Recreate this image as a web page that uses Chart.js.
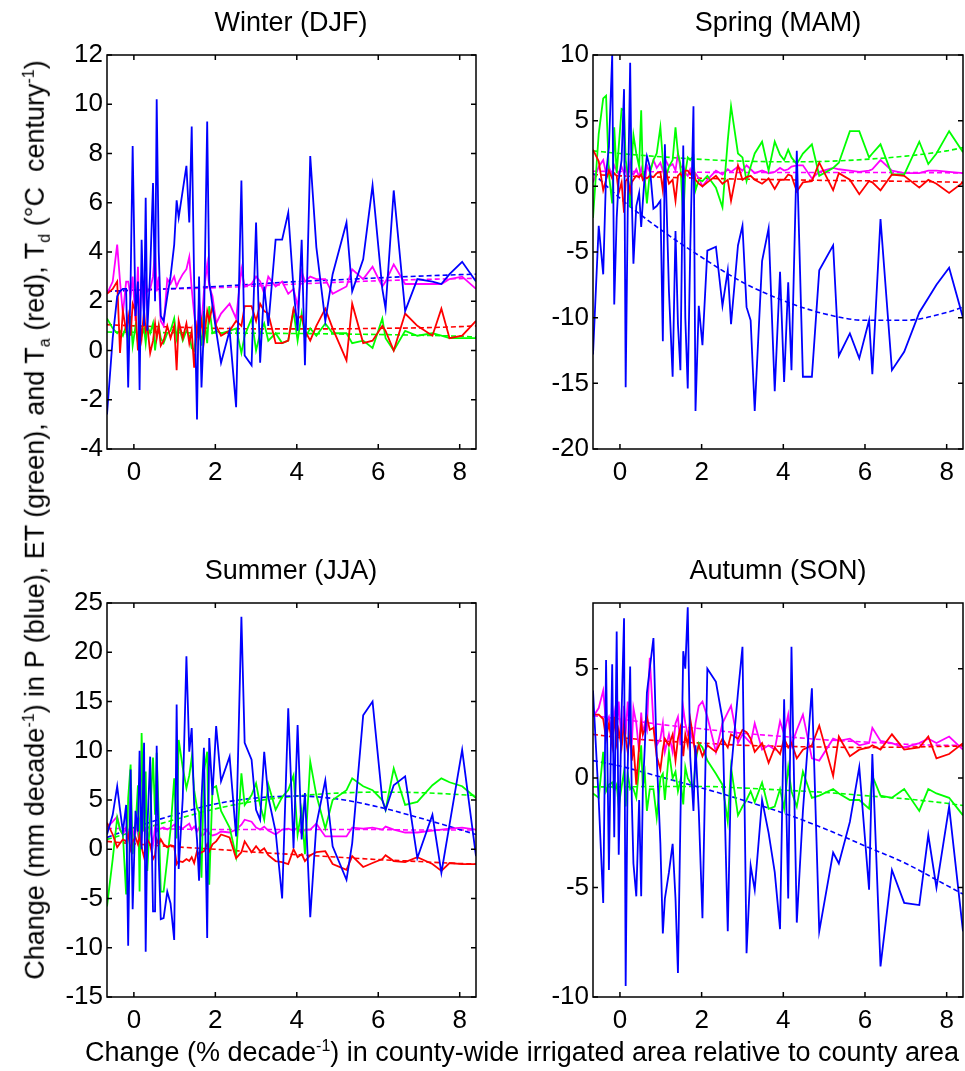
<!DOCTYPE html>
<html>
<head>
<meta charset="utf-8">
<script src="https://cdn.jsdelivr.net/npm/chart.js@4.4.1/dist/chart.umd.min.js"></script>
<style>
  body { margin: 0; background: #fff; font-family: "Liberation Sans", Arial, sans-serif; }
  #page { position: relative; width: 965px; height: 1071px; overflow: hidden; }
  canvas { position: absolute; }
  .title { position: absolute; font-size: 27px; color: #000; transform: translateX(-50%); white-space: nowrap; }
  #ylab { position: absolute; left: 37px; top: 520px; font-size: 27px; white-space: nowrap;
          transform: translate(-50%, -50%) rotate(-90deg); }
  #xlab { position: absolute; left: 522px; top: 1037px; font-size: 27px; white-space: nowrap; transform: translateX(-50%); }
  sup, sub { font-size: 16px; }
</style>
</head>
<body>
<div id="page">
  <canvas id="c1" width="480" height="500" style="left:0;top:0"></canvas>
  <canvas id="c2" width="479" height="500" style="left:486px;top:0"></canvas>
  <canvas id="c3" width="480" height="500" style="left:0;top:548px"></canvas>
  <canvas id="c4" width="479" height="500" style="left:486px;top:548px"></canvas>
  <div class="title" style="left:291px;top:7px">Winter (DJF)</div>
  <div class="title" style="left:778px;top:7px">Spring (MAM)</div>
  <div class="title" style="left:291px;top:555px">Summer (JJA)</div>
  <div class="title" style="left:778px;top:555px">Autumn (SON)</div>
  <div id="ylab">Change (mm decade<sup>-1</sup>) in P (blue), ET (green), and T<sub>a</sub> (red), T<sub>d</sub> (°C&nbsp; century<sup>-1</sup>)</div>
  <div id="xlab">Change (% decade<sup>-1</sup>) in county-wide irrigated area relative to county area</div>
</div>
<script>
// x: change in irrigated area (% per decade), shared by all panels
const irrX = [-0.66, -0.52, -0.41, -0.34, -0.27, -0.19, -0.14, -0.08, -0.03, 0.04,
  0.1, 0.14, 0.19, 0.25, 0.29, 0.33, 0.4, 0.47, 0.52, 0.56,
  0.61, 0.66, 0.73, 0.82, 0.9, 0.99, 1.05, 1.1, 1.2, 1.29,
  1.36, 1.42, 1.48, 1.55, 1.6, 1.66, 1.72, 1.8, 1.85, 1.93,
  2.02, 2.14, 2.35, 2.51, 2.64, 2.72, 2.89, 3.0, 3.1, 3.2,
  3.3, 3.48, 3.64, 3.79, 3.92, 4.02, 4.12, 4.2, 4.33, 4.48,
  4.7, 4.88, 5.22, 5.36, 5.63, 5.86, 6.1, 6.18, 6.38, 6.66,
  6.96, 7.33, 7.55, 7.75, 8.06, 8.4];
const fitX = [-0.66, 0, 1, 2, 3, 4, 5, 6, 7, 8, 8.4];
const xTicks = [0, 2, 4, 6, 8];

// Winter
const winterP = [-2.6, 0.5, 2.2, 2.4, 2.5, 2.5, -1.5, 2.8, 8.3, 1.4,
  2.8, -1.6, 4.5, 1.0, 6.2, 0.8, 3.2, 6.8, 2.0, 10.2,
  4.0, 1.4, 1.2, 2.2, 3.0, 4.3, 6.1, 5.4, 6.5, 7.5,
  5.2, 9.1, 2.8, -2.8, 3.0, -1.5, 1.0, 9.3, 2.8, 1.8,
  0.8, -0.5, 0.8, -2.3, 6.9, -0.2, -0.6, 5.2, -0.5, 2.6,
  1.0, 4.5, 4.5, 5.6, 2.5, 0.8, 4.5, -0.6, 7.9, 4.2,
  1.2, 3.1, 5.2, 2.4, 3.7, 6.7, 2.5, 1.7, 6.5, 1.6,
  2.9, 2.8, 2.7, 3.1, 3.6, 2.8];
const winterET = [1.3, 0.9, 0.7, 0.8, 0.6, 1.0, 0.4, 1.4, 0.2, 1.0,
  0.3, 1.2, 0.6, 0.9, 0.3, 1.0, 0.7, 1.1, 0.0, 0.6,
  1.0, 0.5, 0.3, 0.7, 0.8, 1.3, 0.5, 1.0, 0.4, 0.8,
  0.6, 0.1, 0.0, 0.9, 1.0, 0.2, 1.6, 0.3, 1.8, 0.7,
  0.8, 0.7, 0.8, 0.9, -0.1, 0.6, 1.3, 0.0, 0.7, 1.1,
  0.4, 0.7, 0.3, 0.4, 1.6, 0.4, 1.5, 0.5, 0.9, 0.6,
  1.1, 0.7, 0.7, 0.3, 0.4, 0.1, 1.3, 0.5, 0.0, 0.8,
  0.6, 0.7, 0.6, 0.5, 0.5, 0.5];
const winterTa = [2.3, 2.5, 2.8, -0.1, 1.6, 0.8, 1.4, 0.6, 1.9, 1.6,
  0.0, 1.2, 0.5, 1.6, 0.8, 1.0, -0.1, 0.4, 1.1, 0.5,
  1.0, 0.2, 0.4, 1.0, 0.5, 1.0, -0.8, 1.2, 0.5, 1.1,
  0.3, 0.8, -0.7, 1.0, 0.6, 1.2, 0.4, 1.6, 1.2, 1.8,
  1.0, 0.6, 0.8, 1.2, 1.0, 1.8, 1.8, 1.2, 1.9, 1.6,
  1.5, 0.3, 0.3, 0.4, 1.7, 1.3, 1.4, 0.8, 0.4, 1.0,
  1.7, 0.9, -0.4, 1.9, 0.3, 0.4, 1.0, 0.8, 0.0, 1.5,
  1.0, 0.6, 1.7, 0.5, 0.6, 1.2];
const winterTd = [2.3, 2.8, 4.3, 2.8, 1.5, 2.8, 2.8, 2.2, 3.0, 1.2,
  3.4, 1.0, 3.0, 1.5, 2.8, 2.4, 2.5, 3.0, 4.1, 2.4,
  3.0, 1.2, 1.0, 2.9, 2.7, 3.0, 2.6, 2.8, 3.1, 3.3,
  3.8, 2.5, 1.5, 0.5, 2.0, 1.0, 2.4, 3.5, 2.6, 2.2,
  1.1, 1.5, 1.9, 1.3, 3.3, 2.6, 2.7, 3.0, 2.8, 2.3,
  3.0, 2.6, 2.8, 2.3, 2.5, 1.8, 3.2, 2.8, 3.0, 2.9,
  2.9, 2.3, 2.6, 3.3, 2.9, 3.4, 2.6, 2.8, 3.5, 2.7,
  2.7, 2.7, 2.7, 2.9, 3.0, 2.5];
const winterPFit = [2.4, 2.45, 2.52, 2.6, 2.7, 2.8, 2.87, 2.95, 3.02, 3.08, 3.1];
const winterETFit = [0.75, 0.74, 0.72, 0.71, 0.7, 0.69, 0.67, 0.65, 0.62, 0.58, 0.55];
const winterTaFit = [1.05, 1.0, 0.95, 0.9, 0.88, 0.88, 0.88, 0.9, 0.92, 0.97, 1.0];
const winterTdFit = [2.4, 2.45, 2.5, 2.55, 2.62, 2.7, 2.77, 2.83, 2.88, 2.92, 2.93];
const winterYTicks = [-4, -2, 0, 2, 4, 6, 8, 10, 12];

// Spring
const springP = [-12.8, -3.0, -6.7, 0.9, 3.0, 10, -9, -2.4, 0.5, 2.0,
  7.4, -15.3, -2.0, 9.4, -1.0, -5.9, -1.5, -0.5, -3.1, -1.2,
  1.0, 2.3, 1.5, -1.7, -1.5, -1.1, -11.8, 3.2, -8, -14.5,
  -3.4, -10.5, -14, 3.1, -10, -15.4, -5, 6.1, -17.1, -9.1,
  -12.1, -4.9, -4.6, -9.1, -6.4, -10.5, -4.5, -3.0, -9.2, -10.2,
  -17.1, -5.7, -3.2, -15.6, -6.5, -14.9, -7.3, -14, 2.7, -14.5,
  -14.5, -6.4, -4.5, -12.9, -11.2, -13.1, -10.2, -14.3, -2.5, -14,
  -12.6, -9.6, -8.5, -7.5, -6.2, -10];
const springET = [-2.4, 4, 6.7, 6.9, 0.9, -1.3, 4.5, 1.0, 3.0, 5.9,
  5.8, 2.0, 1.0, -1.6, 2.0, 3.9, 2.5, 1.5, 5.8, 1.0,
  0.5, -1.3, 1.0, 2.0, 2.5, 4.5, 2.0, 0.4, 1.5, 2.0,
  4.5, 2.5, 1.7, -2.6, 1.0, 2.2, 2.0, 2.3, -0.3, 0.5,
  0.4, 0.8, -0.1, -1.6, 3.5, 6.1, 2.5, 2.2, 0.4, 1.5,
  2.5, 3.4, 1.2, 3.4, 2.4, 2.0, 2.8, 2.2, 1.7, 2.5,
  3.2, 0.8, 1.4, 1.8, 4.2, 4.2, 2.2, 2.5, 3.2, 0.9,
  0.9, 3.4, 1.7, 2.5, 4.2, 2.6];
const springTa = [2.8, 1.9, -0.3, 0.5, 1.2, 0.6, 1.0, 0.8, -0.5, 0.3,
  -2.0, 0.4, 0.6, -0.4, 0.3, 0.5, 0.8, 0.7, 0.9, 0.5,
  0.7, 0.6, 0.8, 0.7, 1.0, 1.1, -0.3, 1.5, 0.2, 0.5,
  -1.1, 0.8, 1.0, 0.6, 1.2, 1.2, 0.9, 1.2, 0.5, 0.2,
  0.0, 0.3, 0.8, 0.2, 0.5, -1.1, 1.6, 0.5, 0.7, 0.8,
  0.5, 0.2, 0.6, -0.2, 0.5, 0.5, 0.9, 0.8, -0.4, 0.3,
  0.4, 1.8, -0.3, 1.0, 0.5, -0.6, 0.4, 0.3, -0.3, 0.9,
  0.8, -0.1, 0.5, 0.2, -0.5, 0.3];
const springTd = [0.3, 1.5, 2.0, 1.0, 1.5, 0.8, 1.6, 1.2, 0.9, 1.5,
  1.0, 1.4, 0.6, 1.8, 1.0, 0.9, 1.3, 0.7, 1.4, 1.0,
  0.2, 1.6, 1.1, 2.0, 1.4, 1.8, 1.2, 2.1, 1.5, 1.7,
  1.2, 2.5, 1.4, 1.6, 1.0, 0.8, 1.3, 0.7, 1.0, 0.6,
  0.0, 0.5, 1.2, 0.9, 1.3, 1.1, 1.5, 1.2, 1.6, 1.3,
  1.0, 1.2, 1.0, 1.1, 1.4, 1.2, 1.3, 1.5, 1.6, 1.6,
  0.6, 1.1, 1.4, 1.3, 1.2, 1.1, 1.2, 1.3, 2.0, 1.2,
  1.0, 1.0, 1.2, 1.2, 1.1, 1.0];
const springPFit = [1.0, -0.9, -3.3, -5.4, -7.3, -8.7, -9.7, -10.2, -10.2, -9.6, -9.2];
const springETFit = [2.7, 2.5, 2.25, 2.05, 1.92, 1.87, 1.9, 2.05, 2.3, 2.7, 2.95];
const springTaFit = [0.9, 0.8, 0.7, 0.62, 0.55, 0.5, 0.45, 0.42, 0.38, 0.33, 0.3];
const springTdFit = [1.15, 1.13, 1.1, 1.07, 1.05, 1.05, 1.05, 1.05, 1.05, 1.03, 1.0];
const springYTicks = [-20, -15, -10, -5, 0, 5, 10];

// Summer
const summerP = [1.5, 3.5, 6.4, 4.0, 1.8, 4.5, -9.8, 8.1, -6.1, 3.9,
  1.8, 10, 0.0, 10.8, -10.4, 2.0, 9.4, -6.3, -6.3, 10.5,
  -1.0, -7.1, -7.0, -4.3, -5.5, -9.2, 14.7, -2.0, 5.2, 19.6,
  9.9, 12.3, 4.5, 1.0, -3.2, 5.0, 10.3, -9, 11.3, 5.5,
  12.5, 6.9, 9.4, 1.3, 23.6, 10.8, 9.1, 4.0, 3.0, 9.9,
  5.3, 1.8, -5.0, 14.3, 0.1, 12.6, 1.0, 5.7, -6.9, 2.5,
  7.0, 0.3, -3.1, 0.6, 13.6, 15.0, 5.0, 4.0, 6.5, 7.4,
  -0.9, 3.5, -2.4, 2.5, 10.1, -0.7];
const summerET = [-5.8, -1.0, 3.2, 2.0, 1.5, -4.6, 5.2, 8.6, -0.5, 2.2,
  6.5, -4.3, 11.8, 1.8, 7.9, -2.2, 3.5, 9.3, 3.5, 9.8,
  3.5, -4.3, -4.3, -1.0, 2.0, 7.2, 1.1, 11.1, 8.3, 6.2,
  7.5, 9.3, 6.0, 4.2, 3.8, -2.9, 7.9, 9.9, -3.6, 6.2,
  6.4, 3.9, 2.2, -0.7, 7.7, 4.5, 5.5, 6.7, 4.5, 3.0,
  6.6, 4.0, 5.3, 6.0, 7.5, 1.5, 4.0, -0.5, 8.9, 5.5,
  2.1, 5.0, 6.0, 7.2, 6.4, 6.0, 5.0, 4.0, 8.2, 4.5,
  4.8, 6.5, 7.2, 6.8, 6.4, 5.2];
const summerTa = [2.7, 1.5, 0.2, 0.6, 1.0, 0.8, 1.5, 0.0, 0.8, 1.2,
  0.5, 1.4, 0.2, -0.8, 0.3, 1.0, 0.5, -1.0, -0.6, 1.0,
  0.5, 1.0, 0.5, 0.2, 0.4, 0.3, -1.5, -1.2, -1.3, -1.0,
  -1.2, -0.8, -1.4, -0.2, -0.5, -0.3, -0.2, 0.5, -0.2, 0.5,
  0.8, 1.5, 1.2, -0.9, -0.3, 0.8, -0.3, 0.3, -0.2, 0.1,
  -0.6, -1.2, -1.3, -1.5, 0.0, -0.8, -0.5, -1.2, -0.6, -0.3,
  -0.2, -1.5, -2.1, -0.7, -1.8, -1.4, -1.0, -0.6, -1.2, -1.3,
  -0.8, -1.5, -2.2, -1.4, -1.5, -1.5];
const summerTd = [2.2, 2.8, 3.3, 2.0, 1.5, 2.2, 1.8, 2.4, 1.2, 2.6,
  1.5, 2.8, 1.6, 2.3, 2.0, 1.0, 2.0, 0.5, 2.2, 1.8,
  2.0, 2.1, 2.2, 2.0, 2.2, 2.5, 2.0, 2.3, 2.1, 2.4,
  2.6, 2.0, 2.3, 1.8, 2.2, 1.4, 1.5, 2.0, 1.6, 1.4,
  1.5, 1.8, 1.7, 2.0, 2.5, 3.0, 2.8, 2.2, 2.0, 2.3,
  1.9, 1.5, 2.0, 2.1, 1.9, 2.2, 1.6, 2.0, 2.0, 2.6,
  1.3, 1.3, 1.3, 2.2, 2.1, 2.2, 2.0, 2.3, 2.0, 1.7,
  1.7, 1.9, 2.0, 2.1, 2.2, 2.0];
const summerPFit = [1.2, 2.2, 3.5, 4.6, 5.2, 5.4, 5.1, 4.3, 3.2, 2.0, 1.5];
const summerETFit = [1.0, 1.8, 3.0, 4.1, 4.9, 5.4, 5.7, 5.8, 5.75, 5.55, 5.45];
const summerTaFit = [0.8, 0.55, 0.25, 0.0, -0.3, -0.55, -0.8, -1.05, -1.25, -1.45, -1.5];
const summerTdFit = [2.1, 2.1, 2.05, 2.0, 2.0, 2.0, 2.0, 2.0, 1.95, 1.95, 1.95];
const summerYTicks = [-15, -10, -5, 0, 5, 10, 15, 20, 25];

// Autumn
const autumnP = [4.0, -1.0, -5.7, 5.4, -4.2, 5.2, -2.7, 6.7, -3.5, 3.0,
  7.3, -9.5, 0.5, 5.1, -1.0, -3.9, -5.4, -1.0, -5.4, -0.5,
  1.5, 3.9, 5.0, 6.4, 1.0, -3.0, -7.1, -5.5, -4.3, -3.0,
  -5.5, -8.9, -2.0, 5.8, 5.0, 7.8, 1.0, -1.5, 1.5, -1.5,
  -6.4, 5.0, 4.4, 2.7, -7.0, 0.3, 3.9, 6.0, -8.0, -4.0,
  -5.1, -1.0, -2.5, -4.3, -6.9, 3.6, -5.5, 6.0, -6.6, -1.5,
  4.1, -7.0, -3.4, -3.9, -2.0, 0.5, -5.1, 1.1, -8.6, -4.2,
  -5.7, -5.8, -2.6, -5.0, -1.3, -7.0];
const autumnET = [-0.7, -0.9, 1.2, -0.6, -0.3, -0.2, -0.6, -0.3, -1.3, -0.4,
  0.3, -1.3, 0.2, -0.5, -0.4, -0.5, -0.9, 0.5, 1.5, -0.4,
  0.2, -1.5, -0.5, -0.5, -1.8, 0.0, 0.2, -1.0, 1.2, 0.0,
  0.3, -0.6, -0.1, -1.2, 0.5, 0.0, -0.2, -0.4, 0.7, 1.6,
  1.4, 0.8, 0.2, -0.3, -2.0, 0.5, -1.7, -1.3, -1.0, -0.6,
  -1.1, -0.2, -1.4, -1.3, -0.5, -1.4, 0.5, -0.6, -1.3, 0.3,
  -0.9, -0.8, -0.5, -0.7, -1.0, -1.0, -1.4, 0.1, -0.8, -0.9,
  -0.5, -1.5, -0.5, -0.7, -0.9, -1.7];
const autumnTa = [2.9, 2.9, 2.7, 1.8, 2.5, 1.5, 2.8, 1.6, 2.2, 1.4,
  2.5, 1.8, 1.2, 2.0, 0.8, 1.5, -0.3, 1.5, 2.5, 2.0,
  2.2, 2.8, 2.2, 2.3, 1.0, 0.4, 1.3, 1.8, 1.5, 2.0,
  0.8, 1.8, 2.3, 1.0, 2.0, 1.5, 2.7, 1.8, 1.0, 1.5,
  1.0, 1.5, 1.2, 1.8, 1.4, 2.0, 1.8, 2.2, 2.1, 1.8,
  1.2, 1.6, 0.7, 1.4, 1.1, 1.8, 1.4, 1.6, 0.9, 1.3,
  1.5, 2.4, 0.1, 1.9, 1.0, 1.3, 1.4, 1.5, 1.3, 2.0,
  1.3, 1.4, 1.9, 0.9, 1.1, 1.6];
const autumnTd = [2.8, 3.2, 4.0, 2.5, 2.8, 2.0, 3.0, 2.2, 3.5, 1.5,
  3.3, 2.0, 3.5, 1.8, 1.5, 3.2, 2.5, 1.2, 3.0, 2.0,
  2.5, 2.2, 5.5, 2.5, 1.5, 1.8, 2.5, 1.2, 2.0, 1.2,
  2.5, 2.8, 1.5, 3.2, 2.5, 2.0, 2.2, 1.6, 2.5, 3.3,
  3.5, 2.8, 1.2, 2.5, 3.0, 3.3, 1.6, 2.0, 1.8, 1.6,
  2.5, 1.3, 1.5, 1.3, 2.6, 2.0, 2.9, 1.5, 2.2, 2.9,
  0.9, 0.8, 1.8, 1.7, 1.8, 1.5, 1.6, 2.3, 1.7, 1.6,
  1.4, 1.6, 1.8, 1.6, 1.9, 1.3];
const autumnPFit = [0.8, 0.55, 0.05, -0.45, -1.0, -1.6, -2.3, -3.1, -3.9, -4.9, -5.3];
const autumnETFit = [-0.4, -0.4, -0.38, -0.38, -0.45, -0.55, -0.65, -0.8, -0.95, -1.15, -1.25];
const autumnTaFit = [2.0, 1.85, 1.7, 1.6, 1.5, 1.45, 1.42, 1.4, 1.42, 1.45, 1.47];
const autumnTdFit = [2.85, 2.7, 2.45, 2.25, 2.05, 1.9, 1.75, 1.65, 1.55, 1.5, 1.5];
const autumnYTicks = [-10, -5, 0, 5];

const colors = ['#0000ff', '#00ff00', '#ff0000', '#ff00ff'];
const FONT = '"Liberation Sans", Arial, sans-serif';

// box around the plot with inward tick marks on all four sides (MATLAB look)
const boxTicks = {
    id: 'boxTicks',
    afterDatasetsDraw(chart) {
        const { ctx, chartArea: a, scales: { x, y } } = chart;
        ctx.save();
        ctx.strokeStyle = '#000';
        ctx.lineWidth = 1.5;
        ctx.strokeRect(a.left, a.top, a.right - a.left, a.bottom - a.top);
        ctx.beginPath();
        x.ticks.forEach(t => {
            const px = x.getPixelForValue(t.value);
            ctx.moveTo(px, a.bottom); ctx.lineTo(px, a.bottom - 5);
            ctx.moveTo(px, a.top); ctx.lineTo(px, a.top + 5);
        });
        y.ticks.forEach(t => {
            const py = y.getPixelForValue(t.value);
            ctx.moveTo(a.left, py); ctx.lineTo(a.left + 5, py);
            ctx.moveTo(a.right, py); ctx.lineTo(a.right - 5, py);
        });
        ctx.stroke();
        ctx.restore();
    }
};

function pts(xs, ys) {
    return xs.map((x, i) => ({ x: x, y: ys[i] }));
}

function makePanel(id, series, fits, yTicks, yMin, yMax, padRight) {
    const datasets = [];
    [0, 2, 1, 3].forEach(k => {
        datasets.push({
            data: pts(irrX, series[k]),
            borderColor: colors[k],
            borderWidth: 1.8,
            pointRadius: 0,
            showLine: true,
            tension: 0
        });
    });
    fits.forEach((f, k) => {
        datasets.push({
            data: pts(fitX, f),
            borderColor: colors[k],
            borderWidth: 1.6,
            borderDash: [5, 3],
            pointRadius: 0,
            showLine: true,
            cubicInterpolationMode: 'monotone'
        });
    });
    new Chart(document.getElementById(id), {
        type: 'scatter',
        data: { datasets: datasets },
        options: {
            responsive: false,
            animation: false,
            devicePixelRatio: 1,
            layout: { padding: { top: 55, right: padRight, left: 0, bottom: 0 } },
            plugins: { legend: { display: false }, tooltip: { enabled: false } },
            scales: {
                x: {
                    type: 'linear',
                    min: -0.66,
                    max: 8.4,
                    afterBuildTicks: s => { s.ticks = xTicks.map(v => ({ value: v })); },
                    afterFit: s => { s.height = 51; },
                    grid: { display: false, drawTicks: false },
                    border: { display: false },
                    ticks: { color: '#000', padding: 8, maxRotation: 0, font: { family: FONT, size: 26 } }
                },
                y: {
                    min: yMin,
                    max: yMax,
                    afterBuildTicks: s => { s.ticks = yTicks.map(v => ({ value: v })); },
                    afterFit: s => { s.width = 107; },
                    grid: { display: false, drawTicks: false },
                    border: { display: false },
                    ticks: { color: '#000', padding: 4, font: { family: FONT, size: 26 } }
                }
            }
        },
        plugins: [boxTicks]
    });
}

makePanel('c1', [winterP, winterET, winterTa, winterTd],
    [winterPFit, winterETFit, winterTaFit, winterTdFit], winterYTicks, -4, 12, 4);
makePanel('c2', [springP, springET, springTa, springTd],
    [springPFit, springETFit, springTaFit, springTdFit], springYTicks, -20, 10, 2);
makePanel('c3', [summerP, summerET, summerTa, summerTd],
    [summerPFit, summerETFit, summerTaFit, summerTdFit], summerYTicks, -15, 25, 4);
makePanel('c4', [autumnP, autumnET, autumnTa, autumnTd],
    [autumnPFit, autumnETFit, autumnTaFit, autumnTdFit], autumnYTicks, -10, 8, 2);
</script>
</body>
</html>
